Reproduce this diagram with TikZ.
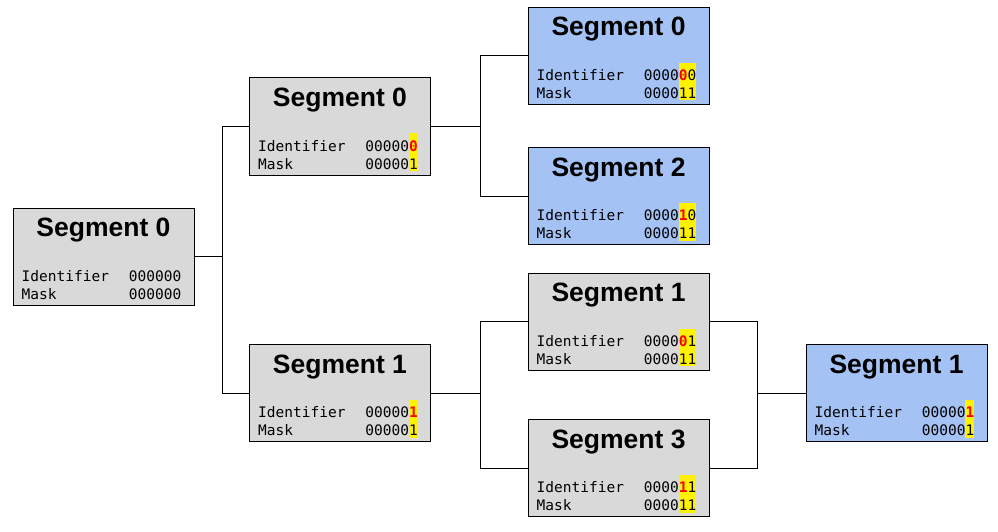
\documentclass[tikz,border=0pt]{standalone}
\usepackage{fontspec}
\setmainfont{Liberation Sans}
\setmonofont{DejaVu Sans Mono}
\usetikzlibrary{positioning}

\definecolor{segGray}{HTML}{D9D9D9}
\definecolor{segBlue}{HTML}{A4C2F4}

\newcommand{\hl}[1]{\textcolor{red}{\textbf{#1}}}

% name, position, fill, title, identifier, mask, highlighted bits
\newcommand{\segment}[7]{%
  \node[segbox, fill=#3] (#1) at (#2) {};
  \fill[yellow] ([xshift=-13.5pt-#7*8.75pt, yshift=4.5pt]#1.south east) rectangle ([xshift=-13.5pt, yshift=42pt]#1.south east);
  \node[segtitle] (#1t) at ([yshift=-29pt]#1.north) {#4};
  \node[segtext, anchor=base west] (#1il) at ([xshift=9pt, yshift=24.5pt]#1.south west) {Identifier};
  \node[segtext, anchor=base west] (#1ml) at ([xshift=9pt, yshift=6.5pt]#1.south west) {Mask};
  \node[segtext, anchor=base east] (#1iv) at ([xshift=-13pt, yshift=24.5pt]#1.south east) {#5};
  \node[segtext, anchor=base east] (#1mv) at ([xshift=-13pt, yshift=6.5pt]#1.south east) {#6};
}

\begin{document}
\begin{tikzpicture}[x=1pt, y=-1pt,
  segbox/.style={draw, line width=1pt, minimum width=181pt, minimum height=97pt, inner sep=0pt},
  segtitle/.style={anchor=base, inner sep=0pt, font=\bfseries\fontsize{26.5}{30}\selectfont},
  segtext/.style={inner sep=0pt, font=\ttfamily\fontsize{14.5}{18}\selectfont},
  link/.style={draw, line width=1pt}]
\useasboundingbox (0,0) rectangle (998,532);

\segment{r}{103.5,256.5}{segGray}{Segment 0}{000000}{000000}{0}
\segment{a0}{340,126.5}{segGray}{Segment 0}{00000\hl{0}}{000001}{1}
\segment{a1}{340,393}{segGray}{Segment 1}{00000\hl{1}}{000001}{1}
\segment{b0}{618.5,56}{segBlue}{Segment 0}{0000\hl{0}0}{000011}{2}
\segment{b2}{618.5,196}{segBlue}{Segment 2}{0000\hl{1}0}{000011}{2}
\segment{b1}{618.5,321.5}{segGray}{Segment 1}{0000\hl{0}1}{000011}{2}
\segment{b3}{618.5,468}{segGray}{Segment 3}{0000\hl{1}1}{000011}{2}
\segment{c1}{896.5,393}{segBlue}{Segment 1}{00000\hl{1}}{000001}{1}

\coordinate (j0) at (222,256.5);
\coordinate (j1) at (480,126.5);
\coordinate (j2) at (480,393);
\coordinate (j3) at (757,393);

\draw[link] (r.east) -- (j0) |- (a0.west);
\draw[link] (j0) |- (a1.west);
\draw[link] (a0.east) -- (j1) |- (b0.west);
\draw[link] (j1) |- (b2.west);
\draw[link] (a1.east) -- (j2) |- (b1.west);
\draw[link] (j2) |- (b3.west);
\draw[link] (b1.east) -| (j3) -- (c1.west);
\draw[link] (b3.east) -| (j3);
\end{tikzpicture}
\end{document}
